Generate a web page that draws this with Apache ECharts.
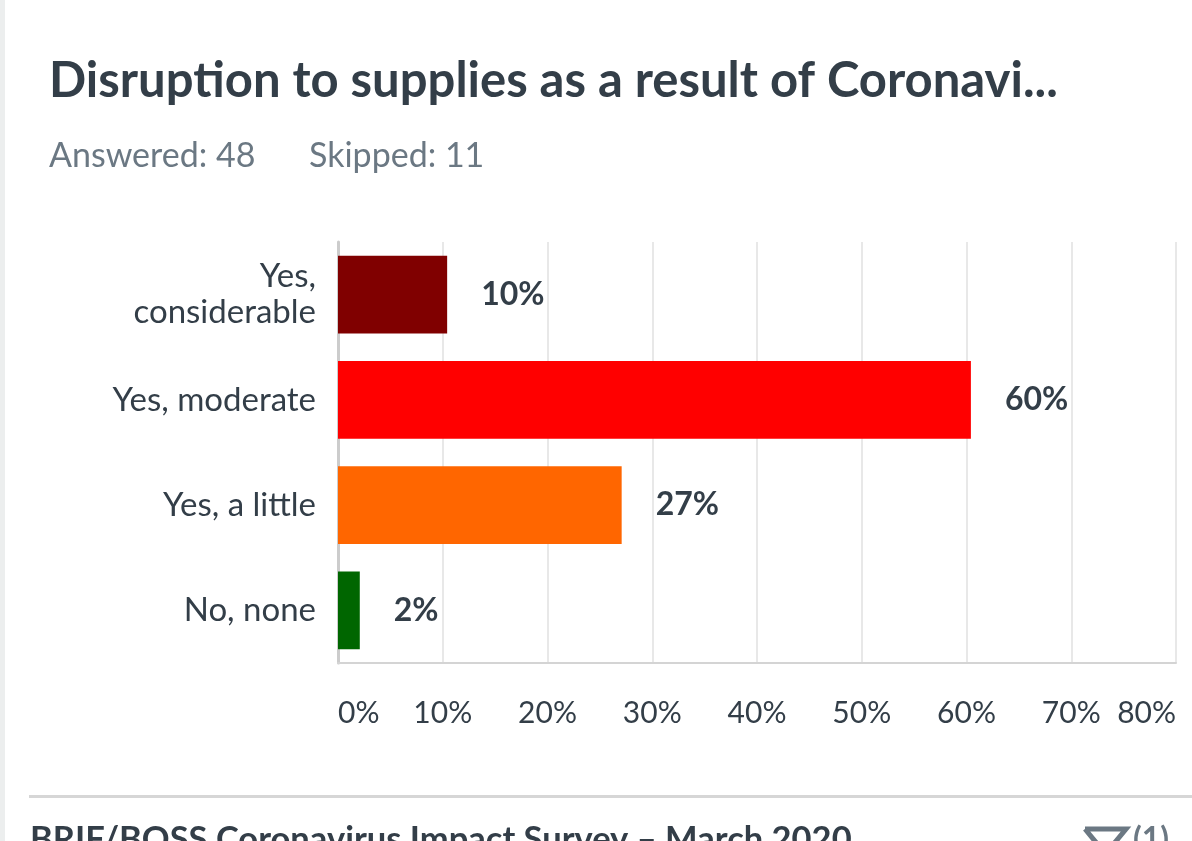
<!DOCTYPE html>
<html>
<head>
<meta charset="utf-8">
<script src="https://cdn.jsdelivr.net/npm/echarts@6/dist/echarts.min.js"></script>
<style>
html,body{margin:0;padding:0;background:#fff;}
#chart{width:1192px;height:841px;}
</style>
</head>
<body>
<div id="chart"></div>
<script>
const titleText = 'Disruption to supplies as a result of Coronavi...';
const answeredText = 'Answered: 48';
const skippedText = 'Skipped: 11';
const footerText = 'BRIF/BOSS Coronavirus Impact Survey – March 2020';
const filterText = '(1)';
const categories = ['Yes,\nconsiderable', 'Yes, moderate', 'Yes, a little', 'No, none'];
const values = [10.42, 60.42, 27.08, 2.08];
const barColors = ['#800000', '#ff0000', '#ff6600', '#006600'];
const xTicks = [0, 10, 20, 30, 40, 50, 60, 70, 80];

const FONT = 'Lato';
const DARK = '#333e48';
const GREY = '#6b7883';

const chart = echarts.init(document.getElementById('chart'), null, {renderer: 'canvas'});
chart.setOption({
  backgroundColor: '#ffffff',
  animation: false,
  grid: {left: 338, right: 16, top: 242, bottom: 178, containLabel: false},
  xAxis: {
    type: 'value',
    min: xTicks[0],
    max: xTicks[xTicks.length - 1],
    interval: 10,
    axisLine: {show: true, lineStyle: {color: '#d4d4d4', width: 2}},
    axisTick: {show: false},
    splitLine: {show: true, lineStyle: {color: '#e8e8e8', width: 2}},
    axisLabel: {
      formatter: v => v + '%',
      color: DARK, fontFamily: FONT, fontSize: 30, margin: 35,
      alignMinLabel: 'left', alignMaxLabel: 'right'
    }
  },
  yAxis: {
    type: 'category',
    inverse: true,
    data: categories,
    axisLine: {show: true, lineStyle: {color: '#cccccc', width: 3}},
    axisTick: {show: false},
    axisLabel: {color: DARK, fontFamily: FONT, fontSize: 33, lineHeight: 36, margin: 22, align: 'right'}
  },
  series: [{
    type: 'bar',
    data: values.map((v, i) => ({value: v, itemStyle: {color: barColors[i]}})),
    barWidth: '74%',
    label: {
      show: true, position: 'right', distance: 34,
      formatter: p => Math.round(p.value) + '%',
      color: DARK, fontFamily: FONT, fontSize: 32, fontWeight: 'bold',
      backgroundColor: '#ffffff'
    }
  }],
  graphic: [
    {type: 'rect', left: 0, top: 0, shape: {width: 5, height: 841}, style: {fill: '#eceeee'}},
    {type: 'text', x: 49, y: 81, style: {text: titleText, fill: DARK, font: 'bold 49px ' + FONT, verticalAlign: 'middle'}},
    {type: 'text', x: 49, y: 156, style: {text: answeredText, fill: GREY, font: '34px ' + FONT, verticalAlign: 'middle'}},
    {type: 'text', x: 309, y: 156, style: {text: skippedText, fill: GREY, font: '34px ' + FONT, verticalAlign: 'middle'}},
    {type: 'rect', shape: {x: 29, y: 795, width: 1163, height: 3}, style: {fill: '#d6d6d6'}},
    {type: 'text', x: 30, y: 840, style: {text: footerText, fill: DARK, font: 'bold 34.5px ' + FONT, verticalAlign: 'middle'}},
    {type: 'polyline', shape: {points: [[1085, 829], [1126, 829], [1112, 846], [1099, 846], [1085, 829]]}, style: {stroke: GREY, lineWidth: 5, fill: 'none'}},
    {type: 'text', x: 1133, y: 840, style: {text: filterText, fill: GREY, font: 'bold 32px ' + FONT, verticalAlign: 'middle'}}
  ]
});
</script>
</body>
</html>
